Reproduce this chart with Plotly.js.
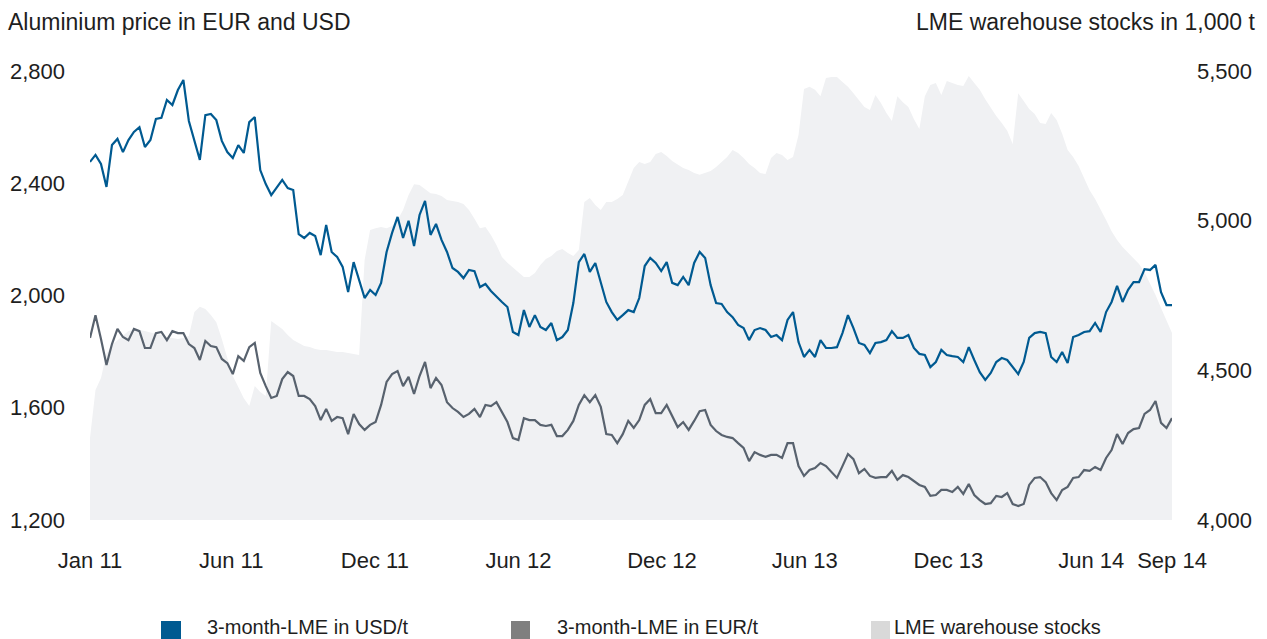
<!DOCTYPE html>
<html>
<head>
<meta charset="utf-8">
<script src="https://cdn.plot.ly/plotly-3.0.1.min.js"></script>
<style>
  html, body { margin: 0; padding: 0; background: #ffffff; }
  #chart { width: 1267px; height: 639px; }
</style>
</head>
<body>
<div id="chart"></div>
<script>
// ---- Data (weekly readings from the reference picture) ----
const startDate = '2010-12-03';
const weekCount = 198;

const usdPrice = [
  2476, 2501, 2469, 2387, 2536, 2558, 2511, 2554, 2583, 2600,
  2529, 2554, 2629, 2633, 2697, 2679, 2732, 2768, 2622, 2551,
  2483, 2643, 2647, 2625, 2551, 2511, 2490, 2536, 2508, 2618,
  2636, 2447, 2397, 2358, 2387, 2412, 2383, 2376, 2219, 2205,
  2223, 2212, 2144, 2251, 2155, 2137, 2102, 2012, 2119, 2055,
  1991, 2020, 2002, 2045, 2155, 2223, 2280, 2205, 2266, 2176,
  2287, 2337, 2216, 2255, 2198, 2155, 2098, 2084, 2062, 2091,
  2087, 2030, 2041, 2016, 1995, 1977, 1959, 1870, 1859, 1948,
  1888, 1930, 1888, 1877, 1902, 1841, 1852, 1877, 1973, 2119,
  2148, 2084, 2116, 2048, 1977, 1941, 1913, 1930, 1948, 1941,
  1991, 2105, 2134, 2116, 2087, 2119, 2045, 2037, 2066, 2037,
  2116, 2155, 2134, 2037, 1973, 1970, 1941, 1923, 1895, 1884,
  1841, 1877, 1884, 1877, 1852, 1859, 1841, 1913, 1941, 1834,
  1781, 1806, 1781, 1841, 1813, 1813, 1816, 1866, 1930, 1884,
  1831, 1824, 1795, 1831, 1834, 1841, 1873, 1849, 1849, 1859,
  1813, 1792, 1788, 1745, 1763, 1806, 1788, 1784, 1781, 1763,
  1816, 1770, 1727, 1699, 1724, 1763, 1777, 1770, 1745, 1720,
  1763, 1849, 1866, 1870, 1866, 1781, 1763, 1799, 1759, 1852,
  1859, 1870, 1873, 1902, 1870, 1941, 1977, 2034, 1977, 2020,
  2048, 2048, 2094, 2091, 2109, 2012, 1966, 1966
];

const eurPrice = [
  1849, 1930, 1845, 1752, 1827, 1881, 1852, 1841, 1881, 1873,
  1813, 1813, 1866, 1870, 1841, 1873, 1866, 1866, 1827, 1813,
  1770, 1838, 1820, 1816, 1774, 1759, 1720, 1784, 1767, 1816,
  1831, 1724, 1677, 1635, 1642, 1702, 1727, 1713, 1642, 1642,
  1631, 1606, 1556, 1596, 1553, 1567, 1563, 1506, 1578, 1542,
  1521, 1539, 1549, 1610, 1692, 1720, 1731, 1677, 1710, 1649,
  1713, 1763, 1670, 1706, 1681, 1620, 1599, 1585, 1567, 1578,
  1596, 1567, 1610, 1606, 1620, 1585, 1549, 1492, 1485, 1563,
  1556, 1556, 1539, 1535, 1539, 1499, 1499, 1521, 1553, 1610,
  1645, 1620, 1645, 1603, 1506, 1503, 1474, 1506, 1553, 1528,
  1556, 1610, 1631, 1581, 1581, 1610, 1571, 1531, 1549, 1521,
  1553, 1588, 1592, 1539, 1517, 1503, 1496, 1492, 1474, 1457,
  1410, 1442, 1432, 1425, 1432, 1432, 1421, 1474, 1474, 1392,
  1357, 1378, 1385, 1403, 1392, 1371, 1350, 1392, 1435, 1417,
  1367, 1382, 1357, 1350, 1353, 1353, 1375, 1343, 1360, 1353,
  1339, 1325, 1318, 1286, 1289, 1307, 1307, 1300, 1318, 1293,
  1328, 1289, 1271, 1257, 1260, 1286, 1282, 1296, 1257, 1250,
  1257, 1325, 1350, 1353, 1335, 1296, 1271, 1307, 1318, 1350,
  1353, 1378, 1375, 1389, 1378, 1421, 1449, 1506, 1471, 1510,
  1524, 1528, 1578, 1592, 1624, 1546, 1528, 1563
];

const lmeStocks = [
  4274, 4434, 4474, 4555, 4585, 4601, 4618, 4631, 4635, 4635,
  4631, 4625, 4621, 4618, 4611, 4608, 4605, 4608, 4615, 4695,
  4712, 4705, 4685, 4661, 4605, 4541, 4481, 4444, 4407, 4381,
  4448, 4428, 4414, 4665, 4651, 4638, 4618, 4601, 4591, 4581,
  4578, 4571, 4568, 4568, 4565, 4561, 4561, 4558, 4555, 4551,
  4869, 4969, 4975, 4979, 4975, 4982, 5002, 5036, 5086, 5122,
  5119, 5106, 5092, 5089, 5082, 5069, 5066, 5062, 5056, 5036,
  5006, 4975, 4979, 4952, 4919, 4879, 4859, 4845, 4828, 4812,
  4812, 4825, 4852, 4872, 4882, 4899, 4905, 4892, 4882, 4902,
  5062, 5076, 5052, 5036, 5062, 5062, 5072, 5086, 5132, 5176,
  5196, 5189, 5196, 5223, 5229, 5216, 5199, 5186, 5176, 5169,
  5159, 5153, 5159, 5166, 5179, 5196, 5213, 5236, 5226, 5209,
  5189, 5176, 5159, 5156, 5209, 5226, 5219, 5203, 5213, 5286,
  5440, 5447, 5437, 5416, 5477, 5480, 5480, 5463, 5447, 5426,
  5403, 5380, 5370, 5420, 5393, 5360, 5333, 5416, 5396, 5380,
  5340, 5306, 5416, 5453, 5460, 5420, 5467, 5460, 5453, 5450,
  5483, 5460, 5437, 5406, 5376, 5350, 5326, 5300, 5256, 5426,
  5400, 5373, 5356, 5326, 5323, 5360, 5336, 5290, 5236, 5213,
  5183, 5143, 5102, 5072, 5039, 5002, 4965, 4935, 4912, 4892,
  4875, 4855, 4828, 4792, 4752, 4708, 4668, 4625
];

const seriesNames = ['3-month-LME in USD/t', '3-month-LME in EUR/t', 'LME warehouse stocks'];
const xTickLabels = ['Jan 11', 'Jun 11', 'Dec 11', 'Jun 12', 'Dec 12', 'Jun 13', 'Dec 13', 'Jun 14', 'Sep 14'];
const xTickDatesInner = ['2011-06-01', '2011-12-01', '2012-06-01', '2012-12-01', '2013-06-01', '2013-12-01', '2014-06-01'];
const priceTicks = [1200, 1600, 2000, 2400, 2800];
const stockTicks = [4000, 4500, 5000, 5500];
const leftTitle = 'Aluminium price in EUR and USD';
const rightTitle = 'LME warehouse stocks in 1,000 t';

// ---- Build weekly dates (x positions) ----
function weeklyDates(start, n) {
  const t0 = Date.parse(start + 'T00:00:00Z');
  const out = [];
  for (let i = 0; i < n; i++) out.push(new Date(t0 + i * 7 * 86400000).toISOString().slice(0, 10));
  return out;
}
const dates = weeklyDates(startDate, weekCount);
const xTickVals = [dates[0]].concat(xTickDatesInner, [dates[dates.length - 1]]);

const colUSD = '#005a91';
const colEUR = '#58626e';
const colStockFill = '#f0f1f3';
const colStockLegend = '#d9d9d9';
const colEURLegend = '#7f7f7f';
const txt = '#1e1e1e';
const FONT = '"Liberation Sans", Arial, Helvetica, sans-serif';

const traces = [
  { x: dates, y: lmeStocks, name: seriesNames[2], type: 'scatter', mode: 'lines',
    fill: 'tozeroy', fillcolor: colStockFill, line: { width: 0, color: colStockFill },
    yaxis: 'y', hoverinfo: 'skip' },
  { x: dates, y: eurPrice, name: seriesNames[1], type: 'scatter', mode: 'lines',
    line: { color: colEUR, width: 2.2 }, yaxis: 'y2' },
  { x: dates, y: usdPrice, name: seriesNames[0], type: 'scatter', mode: 'lines',
    line: { color: colUSD, width: 2.2 }, yaxis: 'y2' }
];

// paper coordinate helpers (plot area: x 90..1172, y 71..520)
const L = 90, R = 1172, T = 71, B = 520;
const px = v => (v - L) / (R - L);
const py = v => (B - v) / (B - T);

const legendItems = [
  { sw: [161, 181], tx: 205, color: colUSD, name: seriesNames[0] },
  { sw: [511, 530], tx: 555, color: colEURLegend, name: seriesNames[1] },
  { sw: [871, 890], tx: 892, color: colStockLegend, name: seriesNames[2] }
];

const shapes = legendItems.map(it => ({
  type: 'rect', xref: 'paper', yref: 'paper',
  x0: px(it.sw[0]), x1: px(it.sw[1]), y0: py(640), y1: py(621),
  fillcolor: it.color, line: { width: 0 }
}));

const annotations = legendItems.map(it => ({
  xref: 'paper', yref: 'paper', x: px(it.tx), y: py(627),
  xanchor: 'left', yanchor: 'middle', showarrow: false, text: it.name,
  font: { family: FONT, size: 20, color: txt }
})).concat([
  { xref: 'paper', yref: 'paper', x: px(6), y: py(22), xanchor: 'left', yanchor: 'middle',
    showarrow: false, text: leftTitle, font: { family: FONT, size: 23, color: txt } },
  { xref: 'paper', yref: 'paper', x: px(1257), y: py(22), xanchor: 'right', yanchor: 'middle',
    showarrow: false, text: rightTitle, font: { family: FONT, size: 23, color: txt } }
]);

const layout = {
  width: 1267, height: 639,
  margin: { l: L, r: 1267 - R, t: T, b: 639 - B, pad: 0 },
  paper_bgcolor: '#ffffff', plot_bgcolor: '#ffffff',
  showlegend: false,
  font: { family: FONT, color: txt },
  xaxis: {
    type: 'date', range: [dates[0], dates[dates.length - 1]],
    tickmode: 'array', tickvals: xTickVals, ticktext: xTickLabels,
    showgrid: false, zeroline: false, showline: false, ticks: '',
    ticklabelstandoff: 25,
    tickfont: { family: FONT, size: 22, color: txt }
  },
  yaxis: {
    side: 'right', range: [4000, 5500], tickmode: 'array', tickvals: stockTicks,
    tickformat: ',d', showgrid: false, zeroline: false, showline: false, ticks: '',
    ticklabelstandoff: 24,
    tickfont: { family: FONT, size: 22, color: txt }
  },
  yaxis2: {
    side: 'left', overlaying: 'y', range: [1200, 2800], tickmode: 'array', tickvals: priceTicks,
    tickformat: ',d', showgrid: false, zeroline: false, showline: false, ticks: '',
    ticklabelstandoff: 24,
    tickfont: { family: FONT, size: 22, color: txt }
  },
  shapes: shapes,
  annotations: annotations
};

Plotly.newPlot('chart', traces, layout, { displayModeBar: false, staticPlot: true });
</script>
</body>
</html>
